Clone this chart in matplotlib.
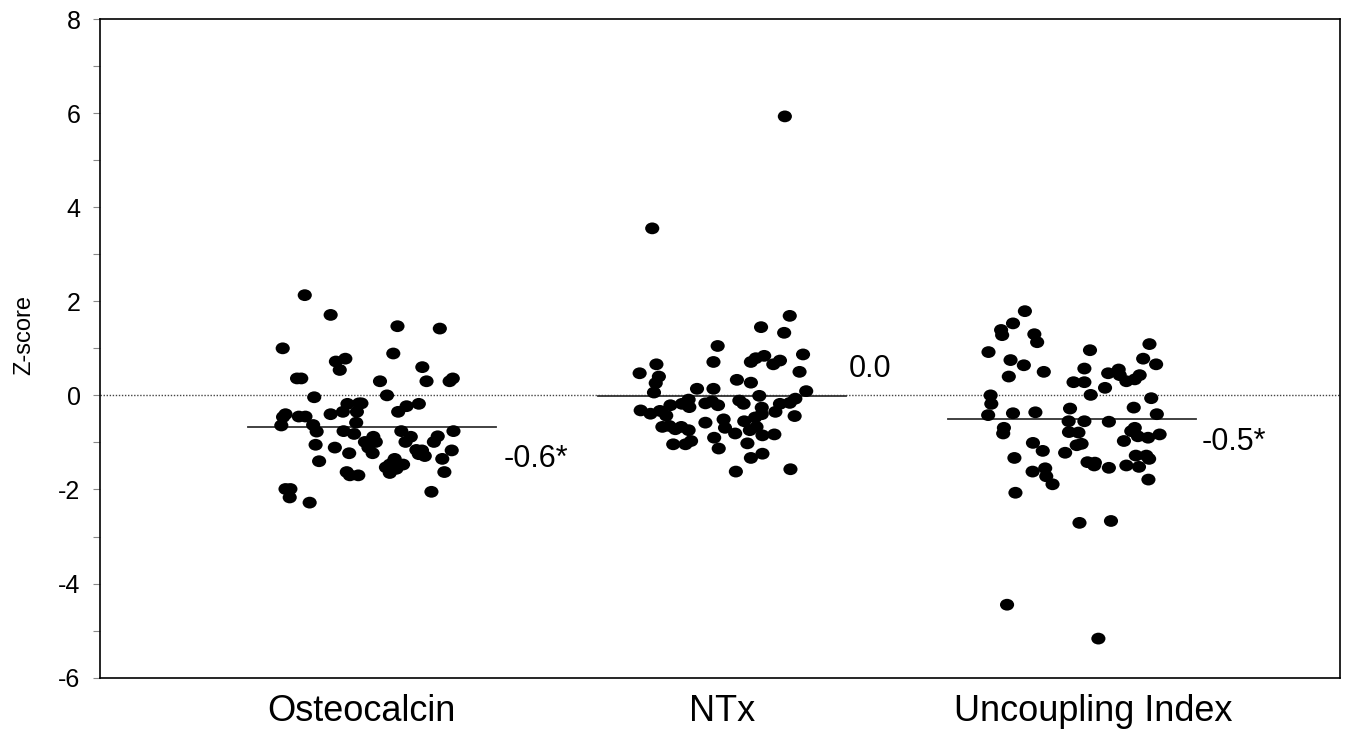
import numpy as np
import matplotlib.pyplot as plt
from matplotlib.markers import MarkerStyle
from matplotlib.transforms import Affine2D

plt.rcParams['font.family'] = ['Liberation Sans', 'DejaVu Sans']
plt.rcParams['axes.unicode_minus'] = False

# データ
categories = ["Osteocalcin", "NTx", "Uncoupling Index"]
mean_values = [-0.68, -0.02, -0.51]
mean_labels = ["-0.6*", "0.0", "-0.5*"]

osteo_dx = [-0.192, -0.118, 0.073, 0.194, -0.255, 0.061, -0.103, -0.076, -0.092, 0.144,
            -0.214, -0.202, 0.023, 0.156, 0.222, 0.231, -0.165, 0.043, -0.070, -0.037,
            -0.030, 0.099, 0.134, 0.075, -0.083, -0.043, -0.118, -0.247, -0.254, -0.209,
            -0.190, -0.259, -0.168, -0.045, -0.158, -0.081, -0.051, 0.084, 0.233, 0.111,
            0.096, 0.188, 0.177, 0.004, -0.020, 0.011, -0.010, 0.002, -0.161, -0.106,
            -0.065, 0.127, 0.143, 0.151, 0.134, 0.228, 0.201, -0.151, 0.065, 0.089,
            0.051, 0.040, 0.051, 0.070, 0.061, -0.072, -0.063, -0.039, 0.207, -0.247,
            -0.233, -0.235, 0.170, -0.178]
osteo_z = [2.13, 1.71, 1.47, 1.42, 1.00, 0.89, 0.72, 0.78, 0.54, 0.60,
           0.36, 0.36, 0.30, 0.30, 0.30, 0.36, -0.04, 0.00, -0.18, -0.17,
           -0.17, -0.23, -0.18, -0.35, -0.35, -0.35, -0.40, -0.40, -0.46, -0.45,
           -0.45, -0.64, -0.63, -0.58, -0.77, -0.76, -0.82, -0.76, -0.76, -0.88,
           -0.99, -0.87, -0.99, -0.88, -0.99, -0.99, -1.11, -1.23, -1.05, -1.11,
           -1.23, -1.16, -1.17, -1.29, -1.25, -1.17, -1.35, -1.40, -1.35, -1.47,
           -1.47, -1.53, -1.65, -1.56, -1.42, -1.63, -1.70, -1.70, -1.63, -1.99,
           -1.99, -2.17, -2.05, -2.28]

ntx_dx = [0.194, 0.112, 0.178, -0.012, 0.232, 0.083, 0.097, 0.121, 0.147, 0.166,
          -0.187, -0.024, -0.235, 0.222, -0.180, -0.189, -0.194, 0.043, 0.083, -0.071,
          -0.024, 0.241, 0.107, 0.210, 0.194, 0.166, 0.153, 0.050, 0.062, -0.095,
          -0.114, -0.093, -0.047, -0.028, -0.011, -0.147, -0.232, -0.204, -0.177, -0.159,
          0.114, 0.114, 0.095, 0.208, 0.005, 0.009, -0.047, 0.064, -0.170, -0.150,
          -0.133, -0.116, -0.095, 0.080, 0.099, 0.038, 0.116, 0.150, -0.022, -0.139,
          -0.104, -0.088, 0.073, -0.009, 0.116, 0.083, 0.040, 0.196, 0.180, -0.199]
ntx_z = [1.69, 1.45, 1.33, 1.05, 0.87, 0.71, 0.79, 0.84, 0.66, 0.74,
         0.66, 0.71, 0.47, 0.50, 0.40, 0.26, 0.06, 0.33, 0.27, 0.14,
         0.14, 0.09, -0.01, -0.07, -0.16, -0.18, -0.35, -0.11, -0.18, -0.09,
         -0.18, -0.25, -0.17, -0.13, -0.21, -0.21, -0.32, -0.39, -0.33, -0.43,
         -0.26, -0.40, -0.47, -0.44, -0.51, -0.69, -0.58, -0.55, -0.67, -0.65,
         -0.72, -0.67, -0.74, -0.74, -0.67, -0.81, -0.85, -0.83, -0.90, -1.04,
         -1.04, -0.97, -1.02, -1.13, -1.24, -1.33, -1.62, -1.57, 5.93, 3.55]

unc_dx = [-0.134, -0.168, -0.202, -0.199, -0.107, -0.099, -0.238, 0.052, 0.222, 0.204,
          0.241, -0.175, -0.137, -0.080, -0.180, 0.036, 0.104, 0.134, 0.137, 0.156,
          0.180, 0.194, 0.005, 0.036, 0.095, 0.054, -0.232, -0.230, -0.239, 0.227,
          -0.168, -0.104, -0.005, 0.177, 0.243, -0.009, -0.008, 0.019, 0.036, 0.106,
          -0.194, -0.196, 0.180, 0.170, 0.189, 0.218, 0.251, 0.149, -0.111, -0.083,
          0.014, 0.028, -0.019, -0.164, 0.045, 0.066, 0.064, 0.106, 0.156, 0.183,
          0.213, 0.221, 0.192, 0.219, -0.112, -0.076, -0.073, -0.055, -0.161, 0.022,
          0.112, -0.185, 0.076]
unc_z = [1.79, 1.53, 1.39, 1.28, 1.30, 1.13, 0.92, 0.96, 1.09, 0.78,
         0.66, 0.75, 0.64, 0.50, 0.40, 0.57, 0.47, 0.55, 0.43, 0.30,
         0.34, 0.43, 0.28, 0.28, 0.16, 0.01, 0.00, -0.18, -0.42, -0.06,
         -0.38, -0.36, -0.28, -0.26, -0.40, -0.55, -0.78, -0.79, -0.55, -0.56,
         -0.69, -0.81, -0.69, -0.76, -0.87, -0.90, -0.83, -0.97, -1.01, -1.18,
         -1.06, -1.03, -1.22, -1.33, -1.42, -1.43, -1.49, -1.54, -1.49, -1.28,
         -1.28, -1.35, -1.52, -1.79, -1.62, -1.55, -1.72, -1.89, -2.07, -2.71,
         -2.67, -4.45, -5.17]

groups = [(osteo_dx, osteo_z), (ntx_dx, ntx_z), (unc_dx, unc_z)]

fig = plt.figure(figsize=(13.52, 7.31), dpi=100)
ax = fig.add_axes([0.074, 0.073, 0.917, 0.901])

dot = MarkerStyle('o', transform=Affine2D().scale(1.2, 1.0))

ax.axhline(0, color='#444444', lw=1.0, ls=(0, (1, 1.2)), zorder=1)

for i, (dx, z) in enumerate(groups):
    pos = i + 1
    ax.scatter(pos + np.array(dx), z, s=72, marker=dot, color='black',
               edgecolors='none', zorder=3)
    ax.plot([pos - 0.355, pos + 0.355], [mean_values[i]] * 2, color='#333333',
            lw=1.3, zorder=2)

# 平均値のラベル
label_pos = [(1.375, -1.36), (2.364, 0.55), (3.372, -1.0)]
for (lx, ly), txt in zip(label_pos, mean_labels):
    ax.text(lx, ly, txt, fontsize=22, va='center', ha='left')

ax.set_xlim(0.223, 3.766)
ax.set_ylim(-6, 8)
ax.set_yticks(np.arange(-6, 9, 2))
ax.set_yticks(np.arange(-5, 8, 2), minor=True)
ax.set_xticks([0.97, 2.0, 3.06])
ax.set_xticklabels(categories, fontsize=26)
ax.tick_params(axis='x', length=0, pad=12)
ax.tick_params(axis='y', which='both', length=5, width=0.8, color='#888888',
               labelsize=18, pad=9)
ax.set_ylabel("Z-score", fontsize=17)
ax.yaxis.set_label_coords(-0.052, 0.52)
for sp in ax.spines.values():
    sp.set_linewidth(1.2)

plt.savefig("out.png", dpi=100)
